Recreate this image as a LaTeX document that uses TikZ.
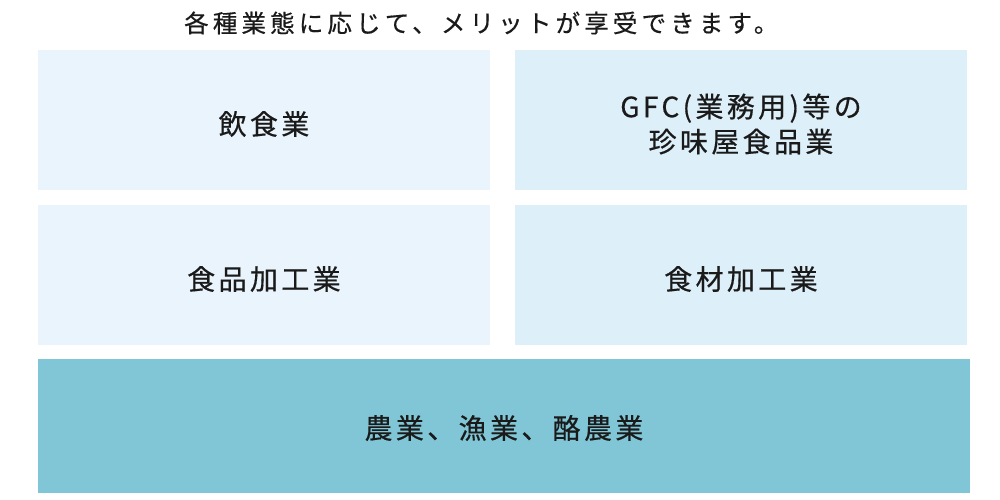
\documentclass[tikz,border=0pt]{standalone}
\usepackage{fontspec}
\setmainfont{Noto Sans CJK JP}[FakeBold=0.5]
\definecolor{boxL}{HTML}{EAF4FC}
\definecolor{boxR}{HTML}{DDEFF8}
\definecolor{boxB}{HTML}{80C6D6}
\definecolor{txt}{HTML}{1A1A1A}
\begin{document}
\begin{tikzpicture}[x=1pt,y=-1pt,
  panel/.style={rectangle,inner sep=0pt,outer sep=0pt,anchor=north west},
  lbl/.style={inner sep=0pt,text=txt,font=\fontsize{28}{35}\selectfont\addfontfeature{LetterSpace=12},align=center},
  ttl/.style={inner sep=0pt,text=txt,font=\fontsize{24.5}{30}\selectfont\addfontfeature{LetterSpace=17}}]
\useasboundingbox (0,0) rectangle (1000,500);
\fill[white] (0,0) rectangle (1000,500);
\node[ttl,anchor=west] (title) at (184,23) {各種業態に応じて、メリットが享受できます。};
\node[panel,fill=boxL,minimum width=452pt,minimum height=140pt] (b1) at (38,50) {};
\node[panel,fill=boxR,minimum width=452pt,minimum height=140pt] (b2) at (515,50) {};
\node[panel,fill=boxL,minimum width=452pt,minimum height=140pt] (b3) at (38,205) {};
\node[panel,fill=boxR,minimum width=452pt,minimum height=140pt] (b4) at (515,205) {};
\node[panel,fill=boxB,minimum width=932pt,minimum height=134pt] (b5) at (38,359) {};
\node[lbl] (t1) at ([yshift=-4pt]b1.center) {飲食業};
\node[lbl] (t2) at ([yshift=-4pt]b2.center) {GFC(業務用)等の\\珍味屋食品業};
\node[lbl] (t3) at ([yshift=-4pt]b3.center) {食品加工業};
\node[lbl] (t4) at ([yshift=-4pt]b4.center) {食材加工業};
\node[lbl] (t5) at ([yshift=-2pt]b5.center) {農業、漁業、酪農業};
\end{tikzpicture}
\end{document}
